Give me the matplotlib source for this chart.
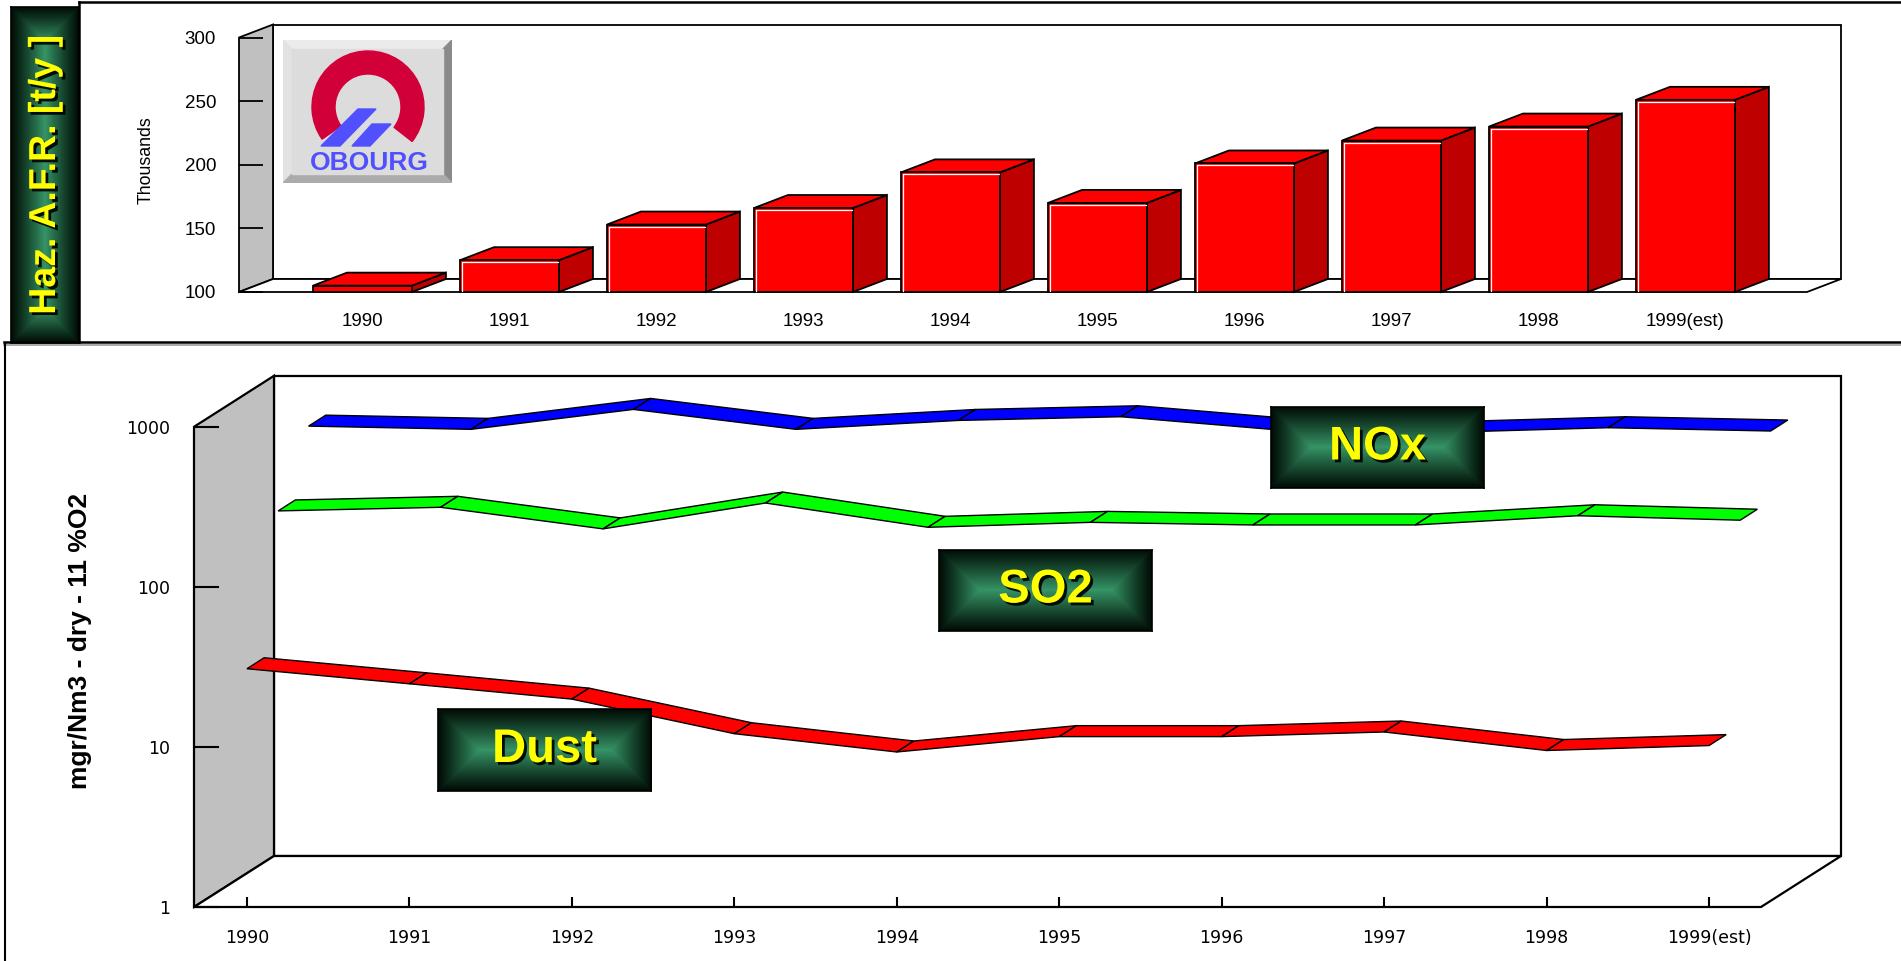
"""Hazardous AFR usage and stack emissions, Obourg plant 1990-1999."""

import numpy as np
import matplotlib

matplotlib.use("Agg")
import matplotlib.pyplot as plt
import matplotlib.patheffects as pe
from matplotlib.lines import Line2D
from matplotlib.patches import Polygon, Rectangle, Wedge
from matplotlib.ticker import FixedLocator, NullLocator
from matplotlib.transforms import IdentityTransform

# ---- data -------------------------------------------------------------
years = ["1990", "1991", "1992", "1993", "1994", "1995", "1996", "1997", "1998", "1999(est)"]
afr_thousands = [105, 125, 153, 166, 194, 170, 201, 219, 230, 251]

nox = [574, 548, 730, 548, 623, 657, 540, 525, 561, 535]
so2 = [224, 236, 173, 251, 177, 190, 183, 183, 209, 196]
dust = [30.8, 24.8, 19.9, 12.1, 9.3, 11.6, 11.6, 12.4, 9.5, 10.2]

W, H, DPI = 1901, 961, 100
DEPTH_TOP = (34, 13)      # pixel offset of the back plane
DEPTH_BOT = (80, 51)
RIBBON = 0.215            # ribbon thickness as share of depth

plt.rcParams["font.family"] = ["Liberation Sans", "DejaVu Sans"]

fig = plt.figure(figsize=(W / DPI, H / DPI), dpi=DPI)


def box(x0, y0, x1, y1):
    """Pixel box (top-left origin) -> figure fraction rect."""
    return [x0 / W, 1 - y1 / H, (x1 - x0) / W, (y1 - y0) / H]


def P(ax, x, y, z, depth):
    return ax.transData.transform((x, y)) + z * np.asarray(depth, float)


def poly(ax, pts, **kw):
    ax.add_patch(Polygon(np.asarray(pts), closed=True, transform=IdentityTransform(),
                         clip_on=False, **kw))


def fig_line(xs, ys, **kw):
    fig.add_artist(Line2D([x / W for x in xs], [1 - y / H for y in ys],
                          transform=fig.transFigure, **kw))


def green_box(x0, y0, x1, y1, label, size, rotation=0):
    bx = fig.add_axes(box(x0, y0, x1, y1))
    w, h = int(x1 - x0), int(y1 - y0)
    xx = np.arange(w)[None, :] + 0.5
    yy = np.arange(h)[:, None] + 0.5
    d = np.minimum(np.minimum(xx, w - xx), np.minimum(yy, h - yy))
    f = np.clip(d / (min(w, h) / 2), 0, 1) ** 1.1
    edge = np.array([0.0, 0.05, 0.02])
    centre = np.array([0.21, 0.58, 0.40])
    img = edge + (centre - edge) * f[..., None]
    bx.imshow(img, extent=(0, 1, 0, 1), aspect="auto", interpolation="bilinear")
    bx.set_xlim(0, 1)
    bx.set_ylim(0, 1)
    bx.set_xticks([])
    bx.set_yticks([])
    for s in bx.spines.values():
        s.set_color("black")
        s.set_linewidth(1.2)
    bx.text(0.5, 0.5, label, ha="center", va="center", rotation=rotation,
            fontsize=size, fontweight="bold", color="#FFFF00",
            path_effects=[pe.withSimplePatchShadow(offset=(2, -2), shadow_rgbFace="black",
                                                   alpha=0.9)])
    return bx


# ---- panel frames -----------------------------------------------------
fig_line([79, W], [2, 2], color="black", lw=1.8)
fig_line([79, 79], [2, 342], color="black", lw=1.8)
fig_line([4, W], [342, 342], color="black", lw=1.8)
fig_line([4, W], [344.5, 344.5], color="#9A9A9A", lw=1.2)
fig_line([5, 5], [343, H], color="black", lw=1.5)

green_box(11, 7, 79, 343, "Haz. A.F.R. [t/y ]", 27, rotation=90)

# ---- top chart: 3D bars ----------------------------------------------
ax1 = fig.add_axes(box(239, 37.5, 1807, 292))
xpos = np.arange(len(years))
ax1.set_xlim(-0.84, 9.827)
ax1.set_ylim(100, 300)
ax1.patch.set_visible(False)
for s in ax1.spines.values():
    s.set_visible(False)

xl, xr = ax1.get_xlim()
yb, yt = ax1.get_ylim()
d = DEPTH_TOP
poly(ax1, [P(ax1, xl, yb, 1, d), P(ax1, xr, yb, 1, d), P(ax1, xr, yt, 1, d), P(ax1, xl, yt, 1, d)],
     facecolor="white", edgecolor="black", lw=1.3, zorder=0.5)
poly(ax1, [P(ax1, xl, yb, 0, d), P(ax1, xl, yt, 0, d), P(ax1, xl, yt, 1, d), P(ax1, xl, yb, 1, d)],
     facecolor="#C0C0C0", edgecolor="black", lw=1.3, zorder=0.6)
poly(ax1, [P(ax1, xl, yb, 0, d), P(ax1, xr, yb, 0, d), P(ax1, xr, yb, 1, d), P(ax1, xl, yb, 1, d)],
     facecolor="white", edgecolor="black", lw=1.3, zorder=0.6)

bw = 0.673
ax1.bar(xpos, np.array(afr_thousands) - 100, bottom=100, width=bw, color="#FF0000",
        edgecolor="black", linewidth=1.3, zorder=3, clip_on=False)
for x, v in zip(xpos, afr_thousands):
    l, r = x - bw / 2, x + bw / 2
    poly(ax1, [P(ax1, r, 100, 0, d), P(ax1, r, v, 0, d), P(ax1, r, v, 1, d), P(ax1, r, 100, 1, d)],
         facecolor="#BE0000", edgecolor="black", lw=1.3, zorder=2)
    poly(ax1, [P(ax1, l, v, 0, d), P(ax1, r, v, 0, d), P(ax1, r, v, 1, d), P(ax1, l, v, 1, d)],
         facecolor="#FF0000", edgecolor="black", lw=1.3, zorder=2)
    if v - 100 < 10:
        continue
    p0 = P(ax1, l, 100, 0, d) + (2, 1)
    p1 = P(ax1, l, v, 0, d) + (2, -2)
    p2 = P(ax1, r, v, 0, d) + (-1, -2)
    ax1.add_line(Line2D([p0[0], p1[0], p2[0]], [p0[1], p1[1], p2[1]], color="white", lw=0.9,
                        transform=IdentityTransform(), clip_on=False, zorder=3.5))

ax1.set_yticks([100, 150, 200, 250, 300])
ax1.tick_params(axis="y", direction="in", length=17.3, width=1.3, pad=16.5, labelsize=13.5)
ax1.set_xticks(xpos, years)
ax1.tick_params(axis="x", length=0, pad=15, labelsize=13.5)
fig.text(146 / W, 1 - 160 / H, "Thousands", rotation=90, ha="center", va="center", fontsize=12.8)

# logo
lg = fig.add_axes(box(283, 40, 452, 183))
lg.set_xlim(0, 169)
lg.set_ylim(0, 143)
lg.axis("off")
lg.add_patch(Polygon([(0, 143), (169, 143), (160, 134), (9, 134)], color="#EBEBEB"))
lg.add_patch(Polygon([(0, 0), (0, 143), (9, 134), (9, 9)], color="#E2E2E2"))
lg.add_patch(Polygon([(169, 0), (169, 143), (160, 134), (160, 9)], color="#8A8A8A"))
lg.add_patch(Polygon([(0, 0), (169, 0), (160, 9), (9, 9)], color="#ABABAB"))
lg.add_patch(Rectangle((9, 9), 151, 125, color="#DCDCDC"))
lg.add_patch(Wedge((85, 76), 56, -38, 215, width=23, color="#D20038"))
lg.add_patch(Polygon([(38, 37), (57, 37), (93, 74), (75, 74)], color="#5050FF"))
lg.add_patch(Polygon([(69, 37), (87, 37), (108, 59), (89, 59)], color="#5050FF"))
lg.text(86, 20, "OBOURG", ha="center", va="center", fontsize=19, fontweight="bold",
        color="#5050FF")

# ---- bottom chart: 3D ribbons on log scale --------------------------
ax2 = fig.add_axes(box(194, 426.8, 1761, 907))
ax2.set_yscale("log")
ax2.set_ylim(1, 1000)
ax2.set_xlim(-0.326, 9.32)
ax2.patch.set_visible(False)
for s in ax2.spines.values():
    s.set_visible(False)

xl, xr = ax2.get_xlim()
yb, yt = ax2.get_ylim()
d = DEPTH_BOT
poly(ax2, [P(ax2, xl, yb, 1, d), P(ax2, xr, yb, 1, d), P(ax2, xr, yt, 1, d), P(ax2, xl, yt, 1, d)],
     facecolor="white", edgecolor="black", lw=1.6, zorder=0.5)
poly(ax2, [P(ax2, xl, yb, 0, d), P(ax2, xl, yt, 0, d), P(ax2, xl, yt, 1, d), P(ax2, xl, yb, 1, d)],
     facecolor="#C0C0C0", edgecolor="black", lw=1.6, zorder=0.6)
poly(ax2, [P(ax2, xl, yb, 0, d), P(ax2, xr, yb, 0, d), P(ax2, xr, yb, 1, d), P(ax2, xl, yb, 1, d)],
     facecolor="white", edgecolor="black", lw=1.6, zorder=0.6)

for vals, color, z in [(nox, "#0000FF", 0.77), (so2, "#00FF00", 0.39), (dust, "#FF0000", 0.0)]:
    for i in range(len(vals) - 1):
        poly(ax2, [P(ax2, i, vals[i], z, d), P(ax2, i + 1, vals[i + 1], z, d),
                   P(ax2, i + 1, vals[i + 1], z + RIBBON, d), P(ax2, i, vals[i], z + RIBBON, d)],
             facecolor=color, edgecolor="black", lw=1.0, zorder=2)

ax2.yaxis.set_major_locator(FixedLocator([1, 10, 100, 1000]))
ax2.yaxis.set_minor_locator(NullLocator())
ax2.set_yticklabels(["1", "10", "100", "1000"])
ax2.tick_params(axis="y", direction="in", length=18, width=1.5, pad=17, labelsize=12.5,
                labelfontfamily="DejaVu Sans")
ax2.set_xticks(xpos, years)
ax2.tick_params(axis="x", direction="in", length=7.2, width=1.5, pad=15.5, labelsize=12.5,
                labelfontfamily="DejaVu Sans")
fig.text(80 / W, 1 - 641 / H, "mgr/Nm3 - dry - 11 %O2", rotation=90, ha="center", va="center",
         fontsize=19, fontweight="bold")

green_box(1271, 407, 1484, 488, "NOx", 34)
green_box(939, 550, 1152, 631, "SO2", 34)
green_box(438, 709, 651, 791, "Dust", 34)

fig.savefig("out.png", dpi=DPI)
plt.close(fig)
